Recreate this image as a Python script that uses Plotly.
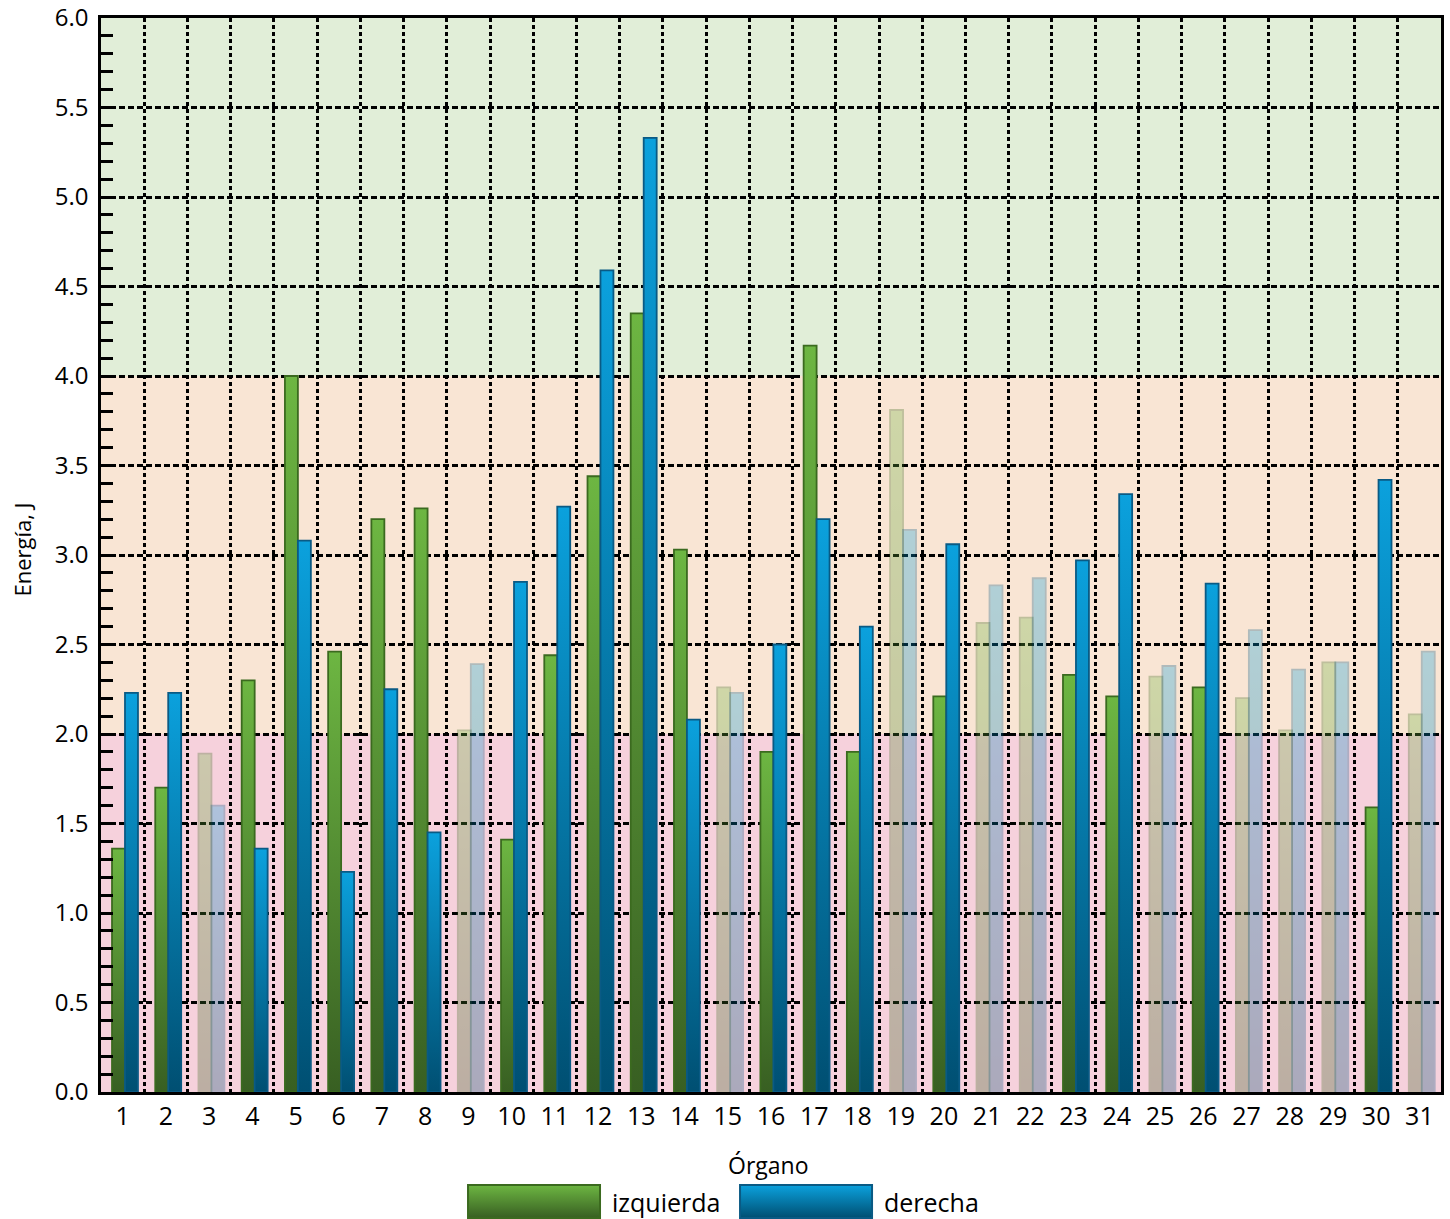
import plotly.graph_objects as go

organs = list(range(1, 32))
izquierda = [1.36, 1.70, 1.89, 2.30, 4.00, 2.46, 3.20, 3.26, 2.02, 1.41,
             2.44, 3.44, 4.35, 3.03, 2.26, 1.90, 4.17, 1.90, 3.81, 2.21,
             2.62, 2.65, 2.33, 2.21, 2.32, 2.26, 2.20, 2.02, 2.40, 1.59, 2.11]
derecha = [2.23, 2.23, 1.60, 1.36, 3.08, 1.23, 2.25, 1.45, 2.39, 2.85,
           3.27, 4.59, 5.33, 2.08, 2.23, 2.50, 3.20, 2.60, 3.14, 3.06,
           2.83, 2.87, 2.97, 3.34, 2.38, 2.84, 2.58, 2.36, 2.40, 3.42, 2.46]
faded = [3, 9, 15, 19, 21, 22, 25, 27, 28, 29, 31]
zones = [(0, 2, "#f6d1dc"), (2, 4, "#f9e5d4"), (4, 6, "#e1eed8")]

op = [0.3 if o in faded else 1.0 for o in organs]
FONT = "Open Sans"

fig = go.Figure()
fig.add_trace(go.Bar(
    x=organs, y=izquierda, name="izquierda", offset=-0.245, width=0.30,
    marker=dict(color="#559231", opacity=op, line=dict(color="#3b6a1f", width=1.8)),
    showlegend=False))
fig.add_trace(go.Bar(
    x=organs, y=derecha, name="derecha", offset=0.055, width=0.30,
    marker=dict(color="#0079b0", opacity=op, line=dict(color="#0a5a84", width=1.8)),
    showlegend=False))

shapes = []
for y0, y1, c in zones:
    shapes.append(dict(type="rect", xref="paper", yref="y", x0=0, x1=1, y0=y0, y1=y1,
                       fillcolor=c, line=dict(width=0), layer="below"))

# manual legend swatches
sw = [(0.2739, 0.3724, "#559231", "#3b6a1f"), (0.4769, 0.5754, "#0079b0", "#0a5a84")]
for x0, x1, fc, lc in sw:
    shapes.append(dict(type="rect", xref="paper", yref="paper", x0=x0, x1=x1,
                       y0=-0.1173, y1=-0.0866, fillcolor=fc, line=dict(color=lc, width=2)))

annotations = [
    dict(text="izquierda", xref="paper", yref="paper", x=0.3795, y=-0.1024,
         xanchor="left", yanchor="middle", showarrow=False, font=dict(size=25, color="black", family=FONT)),
    dict(text="derecha", xref="paper", yref="paper", x=0.5830, y=-0.1024,
         xanchor="left", yanchor="middle", showarrow=False, font=dict(size=25, color="black", family=FONT)),
    dict(text="Órgano", xref="paper", yref="paper", x=0.4978, y=-0.068,
         xanchor="center", yanchor="middle", showarrow=False, font=dict(size=23, color="black", family=FONT)),
    dict(text="Energía, J", xref="paper", yref="paper", x=-0.059, y=0.505, textangle=-90,
         xanchor="center", yanchor="middle", showarrow=False, font=dict(size=22, color="black", family=FONT)),
]

fig.update_layout(
    width=1450, height=1219,
    margin=dict(l=101, r=9, t=18, b=127),
    paper_bgcolor="white", plot_bgcolor="white",
    barmode="overlay",
    font=dict(family=FONT, size=24, color="black"),
    shapes=shapes, annotations=annotations,
    xaxis=dict(range=[0.5, 31.5], tickmode="array", tickvals=organs,
               ticktext=[str(o) for o in organs], showgrid=False, ticks="",
               showline=True, linecolor="black", linewidth=2.5, mirror=True,
               zeroline=False, tickfont=dict(size=25), automargin=False,
               minor=dict(tick0=0.5, dtick=1, showgrid=True, gridcolor="black",
                          gridwidth=2.5, griddash="4px,3px", ticks="")),
    yaxis=dict(range=[0, 6], dtick=0.5, tick0=0, tickformat=".1f", showgrid=True,
               gridcolor="black", gridwidth=2.5, griddash="6px,3px",
               ticks="inside", ticklen=12, tickwidth=2.5, tickcolor="black",
               showline=True, linecolor="black", linewidth=2.5, mirror=True,
               zeroline=False, tickfont=dict(size=24), automargin=False,
               ticklabelstandoff=5,
               minor=dict(dtick=0.1, ticks="inside", ticklen=12, tickwidth=2.5,
                          tickcolor="black", showgrid=False)),
)

post_js = """
document.body.style.margin='0';document.body.style.overflow='hidden';
var gd = document.getElementById('{plot_id}');
function applyGrad(){
  var svg = gd.querySelector('svg.main-svg');
  var ns = 'http://www.w3.org/2000/svg';
  var defs = svg.querySelector('defs');
  function mk(id, c1, c2){
    if (document.getElementById(id)) return;
    var g = document.createElementNS(ns, 'linearGradient');
    g.setAttribute('id', id); g.setAttribute('x1','0'); g.setAttribute('y1','0');
    g.setAttribute('x2','0'); g.setAttribute('y2','1');
    [[0, c1], [1, c2]].forEach(function(s){
      var st = document.createElementNS(ns, 'stop');
      st.setAttribute('offset', s[0]); st.setAttribute('stop-color', s[1]);
      g.appendChild(st);
    });
    defs.appendChild(g);
  }
  mk('gradG', '#6db642', '#385f22');
  mk('gradB', '#0ba1dd', '#004f72');
  var traces = gd.querySelectorAll('.barlayer .trace');
  if (traces.length >= 2) {
    traces[0].querySelectorAll('.point path').forEach(function(p){ p.style.fill = 'url(#gradG)'; });
    traces[1].querySelectorAll('.point path').forEach(function(p){ p.style.fill = 'url(#gradB)'; });
  }
  gd.querySelectorAll('.shapelayer path').forEach(function(p){
    var f = p.style.fill || '';
    if (f.indexOf('85, 146, 49') >= 0) p.style.fill = 'url(#gradG)';
    else if (f.indexOf('0, 121, 176') >= 0) p.style.fill = 'url(#gradB)';
  });
}
applyGrad();
if (gd.on) gd.on('plotly_afterplot', applyGrad);
"""

fig.write_html("out.html", config={"displayModeBar": False}, post_script=post_js)
